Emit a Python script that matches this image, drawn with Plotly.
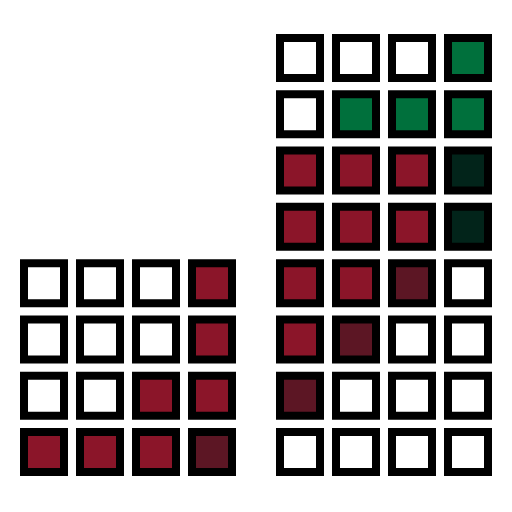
import plotly.graph_objects as go

# Cell categories: 0 empty, 1 red, 2 dark red, 3 green, 4 dark green
left_grid = [  # top row first
    [0, 0, 0, 1],
    [0, 0, 0, 1],
    [0, 0, 1, 1],
    [1, 1, 1, 2],
]
right_grid = [  # top row first
    [0, 0, 0, 3],
    [0, 3, 3, 3],
    [1, 1, 1, 4],
    [1, 1, 1, 4],
    [1, 1, 2, 0],
    [1, 2, 0, 0],
    [2, 0, 0, 0],
    [0, 0, 0, 0],
]
category_colors = ["#FFFFFF", "#8B1529", "#5C1624", "#00703C", "#02241A"]

group_gap = 32 / 56

fig = go.Figure()

def add_grid(grid, x_offset):
    n = len(grid)
    xs, ys, cs = [], [], []
    for r, row in enumerate(grid):
        for c, v in enumerate(row):
            xs.append(x_offset + c)
            ys.append(n - 1 - r)
            cs.append(category_colors[v])
    fig.add_trace(go.Scatter(
        x=xs, y=ys, mode="markers",
        marker=dict(symbol="square", size=40, color=cs,
                    line=dict(color="#000000", width=8)),
        hoverinfo="skip", showlegend=False,
    ))

add_grid(left_grid, 0)
add_grid(right_grid, 4 + group_gap)

fig.update_layout(
    width=512, height=512,
    margin=dict(l=0, r=0, t=0, b=0),
    paper_bgcolor="white", plot_bgcolor="white",
    xaxis=dict(range=[-44 / 56, (512 - 44) / 56], visible=False, fixedrange=True),
    yaxis=dict(range=[-(512 - 452) / 56.29, 7 + 58 / 56.29], visible=False, fixedrange=True),
)

fig.write_html("out.html")
